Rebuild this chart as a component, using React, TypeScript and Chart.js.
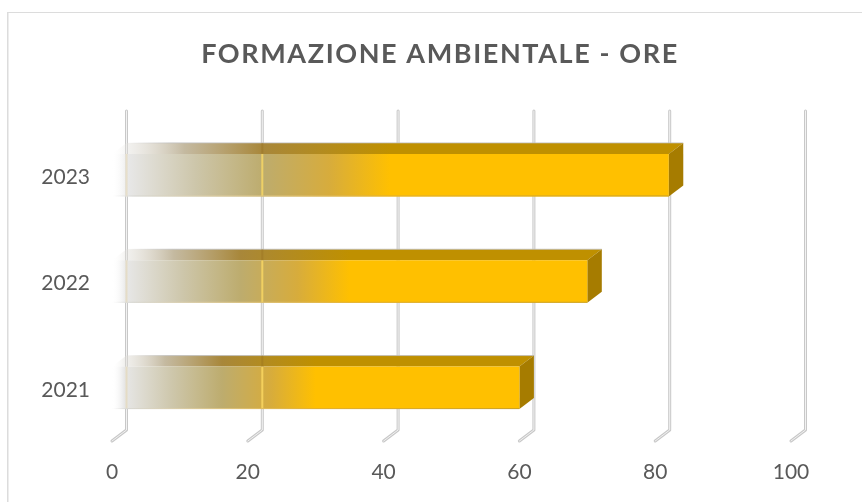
import React, { useEffect, useRef } from "react";
import { Chart, registerables } from "chart.js";

Chart.register(...registerables);

const categories = ["2023", "2022", "2021"];
const hours = [82, 70, 60];
const titleText = "FORMAZIONE AMBIENTALE - ORE";
const depthX = 14.5;
const depthY = 11;

const threeD = {
  id: "threeD",
  beforeDraw(chart: any) {
    const { ctx } = chart;
    ctx.save();
    ctx.fillStyle = "#ffffff";
    ctx.fillRect(0, 0, chart.width, chart.height);
    ctx.fillStyle = "#dcdcdc";
    ctx.fillRect(7, 12, chart.width - 7, 1);
    ctx.fillRect(7, 12, 1.5, chart.height - 12);
    ctx.restore();
    const box = chart.titleBlock;
    if (box && !box.__spaced) {
      box.__spaced = true;
      const draw = box.draw;
      box.draw = function () {
        ctx.save();
        ctx.translate(44.5, 0);
        ctx.letterSpacing = "1.6px";
        draw.call(this);
        ctx.letterSpacing = "0px";
        ctx.restore();
      };
    }
  },
  beforeDatasetsDraw(chart: any) {
    const { ctx, chartArea, scales } = chart;
    const sx = scales.x;
    ctx.save();
    ctx.lineCap = "round";
    ctx.lineJoin = "round";
    const path = (x: number) => {
      ctx.beginPath();
      ctx.moveTo(x, chartArea.bottom);
      ctx.lineTo(x + depthX, chartArea.bottom - depthY);
      ctx.lineTo(x + depthX, chartArea.top - depthY);
    };
    sx.ticks.forEach((t: any) => {
      const x = sx.getPixelForValue(t.value);
      path(x);
      ctx.strokeStyle = "#c8c8c8";
      ctx.lineWidth = 3;
      ctx.stroke();
      path(x);
      ctx.strokeStyle = "#f2f2f2";
      ctx.lineWidth = 1;
      ctx.stroke();
    });
    ctx.restore();
    ctx.save();
    const meta = chart.getDatasetMeta(0);
    meta.data.forEach((bar: any) => {
      const x0 = sx.getPixelForValue(0);
      const x1 = bar.x;
      const top = bar.y - bar.height / 2;
      const bot = bar.y + bar.height / 2;
      const g = ctx.createLinearGradient(x0, 0, x1, 0);
      g.addColorStop(0, "rgba(255,255,255,0)");
      g.addColorStop(0.03, "rgba(225,223,218,0.45)");
      g.addColorStop(0.13, "rgba(190,178,150,0.9)");
      g.addColorStop(0.27, "rgba(168,135,58,1)");
      g.addColorStop(0.5, "rgba(191,144,0,1)");
      g.addColorStop(1, "rgba(191,144,0,1)");
      ctx.fillStyle = g;
      ctx.beginPath();
      ctx.moveTo(x0, top);
      ctx.lineTo(x0 + depthX, top - depthY);
      ctx.lineTo(x1 + depthX, top - depthY);
      ctx.lineTo(x1, top);
      ctx.closePath();
      ctx.fill();
      const edge = ctx.createLinearGradient(x0 + depthX, 0, x0 + 60, 0);
      edge.addColorStop(0, "rgba(190,190,190,0)");
      edge.addColorStop(1, "rgba(190,190,190,0.8)");
      ctx.strokeStyle = edge;
      ctx.lineWidth = 1;
      ctx.beginPath();
      ctx.moveTo(x0 + depthX, top - depthY);
      ctx.lineTo(x1 + depthX, top - depthY);
      ctx.stroke();
      ctx.fillStyle = "#a67c00";
      ctx.beginPath();
      ctx.moveTo(x1, top);
      ctx.lineTo(x1 + depthX, top - depthY);
      ctx.lineTo(x1 + depthX, bot - depthY);
      ctx.lineTo(x1, bot);
      ctx.closePath();
      ctx.fill();
    });
    ctx.restore();
  },
  afterDatasetsDraw(chart: any) {
    const { ctx, scales } = chart;
    const sx = scales.x;
    const meta = chart.getDatasetMeta(0);
    ctx.save();
    meta.data.forEach((bar: any) => {
      const x0 = sx.getPixelForValue(0);
      const x1 = bar.x;
      const top = bar.y - bar.height / 2;
      const bot = bar.y + bar.height / 2;
      const solid = x0 + (x1 - x0) * 0.5;
      sx.ticks.forEach((t: any) => {
        const x = sx.getPixelForValue(t.value) + depthX;
        if (x < solid) {
          ctx.fillStyle = t.value === 0 ? "rgba(225,200,140,0.35)" : "rgba(255,220,100,0.75)";
          ctx.fillRect(x - 1, top, 2, bot - top);
          if (t.value !== 0) {
            ctx.fillStyle = "rgba(150,110,30,0.35)";
            ctx.fillRect(x - 1, top - depthY, 2, depthY);
          }
        }
      });
      const g = ctx.createLinearGradient(x0, 0, x1, 0);
      g.addColorStop(0, "rgba(230,230,230,0)");
      g.addColorStop(0.04, "rgba(215,215,210,1)");
      g.addColorStop(0.5, "rgba(225,175,50,1)");
      g.addColorStop(1, "rgba(200,160,40,1)");
      ctx.fillStyle = g;
      ctx.fillRect(x0, bot - 1, x1 - x0, 1);
    });
    ctx.restore();
  },
};

export default function App() {
  const ref = useRef<HTMLCanvasElement>(null);
  useEffect(() => {
    document.body.style.margin = "0";
    const chart = new Chart(ref.current!, {
      type: "bar",
      data: {
        labels: categories,
        datasets: [
          {
            data: hours,
            barPercentage: 1,
            categoryPercentage: 0.4,
            borderWidth: 0,
            backgroundColor: (c: any) => {
              const ch = c.chart;
              if (!ch.chartArea || c.raw === undefined) return "#ffc000";
              const x0 = ch.scales.x.getPixelForValue(0);
              const x1 = ch.scales.x.getPixelForValue(c.raw);
              const g = ch.ctx.createLinearGradient(x0, 0, x1, 0);
              g.addColorStop(0, "rgba(255,255,255,0)");
              g.addColorStop(0.03, "rgba(231,231,231,1)");
              g.addColorStop(0.15, "rgba(205,198,170,1)");
              g.addColorStop(0.27, "rgba(189,172,110,1)");
              g.addColorStop(0.39, "rgba(215,172,60,1)");
              g.addColorStop(0.5, "rgba(255,192,0,1)");
              g.addColorStop(1, "rgba(255,192,0,1)");
              return g;
            },
          },
        ],
      },
      options: {
        indexAxis: "y",
        animation: false,
        responsive: false,
        layout: { padding: { left: 0, right: 71, top: 0, bottom: 0 } },
        plugins: {
          legend: { display: false },
          tooltip: { enabled: false },
          title: {
            display: true,
            text: titleText,
            color: "#595959",
            font: { family: "Lato", size: 27, weight: "bold" },
            padding: { top: 38, bottom: 51.6 },
          },
        },
        scales: {
          x: {
            min: 0,
            max: 100,
            ticks: {
              stepSize: 20,
              color: "#595959",
              font: { family: "Lato", size: 21 },
              padding: 19,
              maxRotation: 0,
            },
            grid: { display: false, drawTicks: false },
            border: { display: false },
            afterFit(s: any) { s.height = 61; },
          },
          y: {
            ticks: {
              color: "#595959",
              font: { family: "Lato", size: 21 },
              padding: 22,
              labelOffset: 2,
            },
            grid: { display: false, drawTicks: false },
            border: { display: false },
            afterFit(s: any) { s.width = 112; },
          },
        },
      } as any,
      plugins: [threeD],
    });
    return () => chart.destroy();
  }, []);
  return <canvas ref={ref} width={862} height={502} style={{ display: "block" }} />;
}
